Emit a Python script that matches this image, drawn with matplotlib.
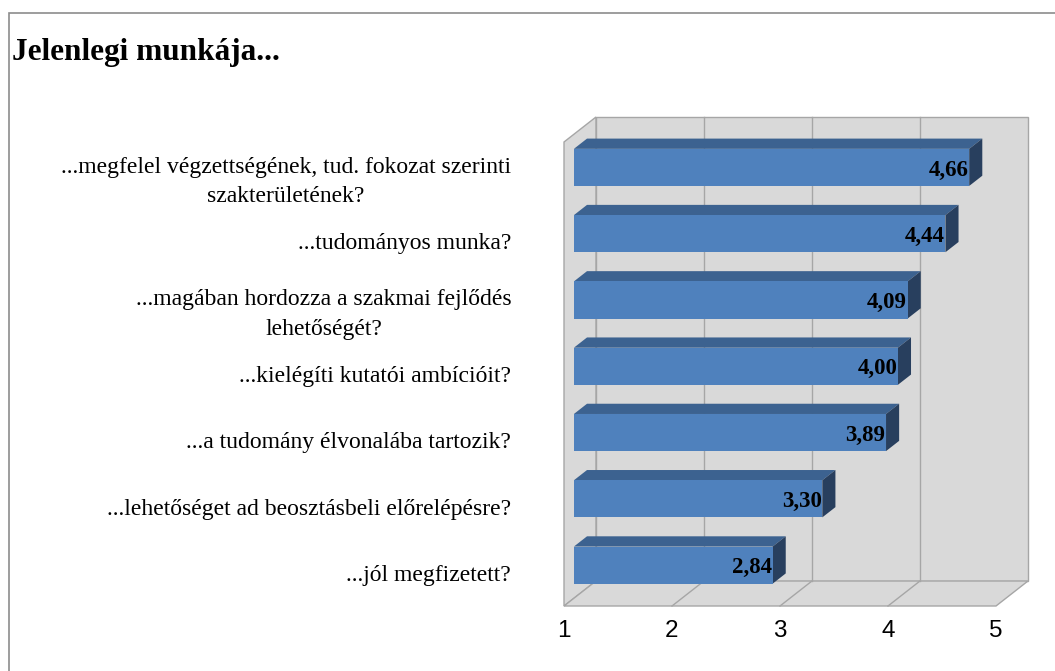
import matplotlib
matplotlib.use("Agg")
import matplotlib.pyplot as plt
from matplotlib.patches import Polygon, Rectangle
import numpy as np

# chart data (top to bottom)
labels = [
    "...megfelel végzettségének, tud. fokozat szerinti\nszakterületének?",
    "...tudományos munka?",
    "...magában hordozza a szakmai fejlődés\nlehetőségét?",
    "...kielégíti kutatói ambícióit?",
    "...a tudomány élvonalába tartozik?",
    "...lehetőséget ad beosztásbeli előrelépésre?",
    "...jól megfizetett?",
]
values = [4.66, 4.44, 4.09, 4.00, 3.89, 3.30, 2.84]
x_ticks = [1, 2, 3, 4, 5]
title = "Jelenlegi munkája..."

# colours
front_col = "#4F81BD"
top_col = "#3C6290"
side_col = "#283F5E"
wall_col = "#D9D9D9"
edge_col = "#A6A6A6"

# fake 3d depth in data units
DX, DY = 0.296, 0.377
f1, f2 = 0.31, 0.72
bar_h = 0.56

W, H = 1055, 671
fig = plt.figure(figsize=(W / 100, H / 100), dpi=100)
ax = fig.add_axes([564 / W, (H - 606) / H, (996 - 564) / W, (606 - 142) / H])
ax.set_xlim(1, 5)
ax.set_ylim(0, len(values))

# figure border (top/left visible)
fig.patches.append(Rectangle((9 / W, -0.1), 1.2, 1 - 13 / H + 0.1, transform=fig.transFigure,
                             fill=False, edgecolor="#8C8C8C", lw=1.2))

n = len(values)
xmin, xmax = x_ticks[0], x_ticks[-1]

# walls
ax.add_patch(Rectangle((xmin + DX, DY), xmax - xmin, n, facecolor=wall_col,
                       edgecolor=edge_col, lw=1, clip_on=False, zorder=0))
ax.add_patch(Polygon([(xmin, 0), (xmin + DX, DY), (xmin + DX, n + DY), (xmin, n)],
                     facecolor=wall_col, edgecolor=edge_col, lw=1, clip_on=False, zorder=0))
ax.add_patch(Polygon([(xmin, 0), (xmax, 0), (xmax + DX, DY), (xmin + DX, DY)],
                     facecolor=wall_col, edgecolor=edge_col, lw=1, clip_on=False, zorder=0))
for t in x_ticks[1:-1]:
    ax.plot([t + DX, t + DX], [DY, n + DY], color=edge_col, lw=1, clip_on=False, zorder=0.5)
    ax.plot([t, t + DX], [0, DY], color=edge_col, lw=1, clip_on=False, zorder=0.5)

# bars
centers = n - 0.5 - np.arange(n)
for c, v in zip(centers, values):
    x0 = xmin + f1 * DX
    x1 = v + f1 * DX
    yb = c - bar_h / 2 + f1 * DY
    yt = c + bar_h / 2 + f1 * DY
    ddx, ddy = (f2 - f1) * DX, (f2 - f1) * DY
    ax.add_patch(Polygon([(x0, yt), (x1, yt), (x1 + ddx, yt + ddy), (x0 + ddx, yt + ddy)],
                         facecolor=top_col, edgecolor="none", clip_on=False, zorder=2))
    ax.add_patch(Polygon([(x1, yb), (x1 + ddx, yb + ddy), (x1 + ddx, yt + ddy), (x1, yt)],
                         facecolor=side_col, edgecolor="none", clip_on=False, zorder=2))
    ax.barh(c + f1 * DY, v - xmin, left=x0, height=bar_h, color=front_col, zorder=3)
    ax.text(x1 - 0.005, c + f1 * DY - 0.04, f"{v:.2f}".replace(".", ","), ha="right", va="center",
            family="Liberation Serif", fontweight="bold", fontsize=16.5, zorder=4)

for s in ax.spines.values():
    s.set_visible(False)
ax.set_xticks(x_ticks)
ax.set_xticklabels([str(t) for t in x_ticks], family="Liberation Sans", fontsize=17.5)
ax.set_yticks(centers)
ax.set_yticklabels(labels, family="Liberation Serif", fontsize=17, linespacing=1.55)
for lab in ax.get_yticklabels():
    lab.set_multialignment("center")
ax.tick_params(axis="both", length=0)
ax.tick_params(axis="x", pad=10)
ax.tick_params(axis="y", pad=38)
ax.set_facecolor("none")

fig.text(12 / W, 1 - 60 / H, title, family="Liberation Serif", fontweight="bold",
         fontsize=22.5, ha="left", va="baseline")

fig.savefig("out.png", dpi=100)
